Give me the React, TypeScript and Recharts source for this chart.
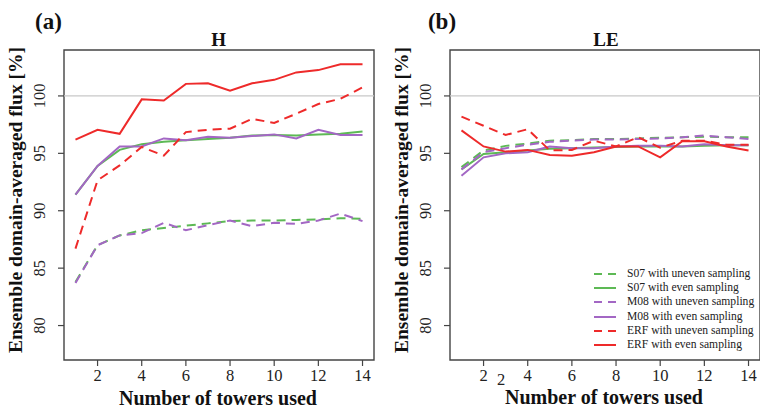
import { LineChart, Line, XAxis, YAxis, ReferenceLine, ReferenceArea } from 'recharts'

// number of towers used
const towers = [1, 2, 3, 4, 5, 6, 7, 8, 9, 10, 11, 12, 13, 14]

// sensible heat (H), ensemble domain-averaged flux [%]
const hS07Uneven = [83.8, 87.0, 87.85, 88.3, 88.5, 88.7, 88.9, 89.1, 89.15, 89.15, 89.2, 89.25, 89.35, 89.3]
const hS07Even = [91.4, 93.9, 95.3, 95.8, 96.0, 96.15, 96.25, 96.35, 96.55, 96.6, 96.55, 96.65, 96.7, 96.9]
const hM08Uneven = [83.7, 87.0, 87.85, 88.05, 88.95, 88.3, 88.75, 89.15, 88.65, 88.95, 88.85, 89.15, 89.75, 89.1]
const hM08Even = [91.4, 93.9, 95.6, 95.6, 96.3, 96.15, 96.45, 96.35, 96.5, 96.65, 96.3, 97.05, 96.6, 96.6]
const hErfUneven = [86.7, 92.65, 93.95, 95.55, 94.8, 96.85, 97.05, 97.15, 98.0, 97.65, 98.45, 99.3, 99.75, 100.75]
const hErfEven = [96.2, 97.05, 96.7, 99.7, 99.6, 101.05, 101.1, 100.45, 101.1, 101.4, 102.05, 102.25, 102.75, 102.75]

// latent heat (LE)
const leS07Uneven = [93.8, 95.25, 95.65, 95.85, 96.1, 96.15, 96.25, 96.25, 96.3, 96.35, 96.4, 96.45, 96.4, 96.4]
const leS07Even = [93.6, 94.95, 95.1, 95.25, 95.4, 95.45, 95.5, 95.55, 95.6, 95.6, 95.6, 95.65, 95.7, 95.7]
const leM08Uneven = [93.6, 95.1, 95.45, 95.75, 96.0, 96.1, 96.2, 96.2, 96.25, 96.3, 96.4, 96.55, 96.4, 96.25]
const leM08Even = [93.05, 94.65, 95.0, 95.1, 95.6, 95.45, 95.45, 95.6, 95.65, 95.65, 95.6, 95.8, 95.7, 95.7]
const leErfUneven = [98.2, 97.4, 96.6, 97.1, 95.25, 95.3, 96.1, 95.6, 96.4, 95.5, 96.1, 96.1, 95.75, 95.75]
const leErfEven = [97.0, 95.6, 95.15, 95.3, 94.85, 94.8, 95.1, 95.6, 95.6, 94.65, 96.05, 96.05, 95.6, 95.25]

const xTicks = [2, 4, 6, 8, 10, 12, 14]
const yTicks = [80, 85, 90, 95, 100]

const GREEN = '#5db955'
const PURPLE = '#a367c4'
const RED = '#ee2a2a'
const FRAME = '#444'
const SERIF = "'Liberation Serif', 'Times New Roman', serif"
const DASH = '9 6'

const series = [
  { key: 's07u', name: 'S07 with uneven sampling', color: GREEN, dashed: true },
  { key: 's07e', name: 'S07 with even sampling', color: GREEN, dashed: false },
  { key: 'm08u', name: 'M08 with uneven sampling', color: PURPLE, dashed: true },
  { key: 'm08e', name: 'M08 with even sampling', color: PURPLE, dashed: false },
  { key: 'erfu', name: 'ERF with uneven sampling', color: RED, dashed: true },
  { key: 'erfe', name: 'ERF with even sampling', color: RED, dashed: false },
]

const buildRows = (cols: number[][]) =>
  towers.map((n, i) => ({
    n,
    s07u: cols[0][i],
    s07e: cols[1][i],
    m08u: cols[2][i],
    m08e: cols[3][i],
    erfu: cols[4][i],
    erfe: cols[5][i],
  }))

const hData = buildRows([hS07Uneven, hS07Even, hM08Uneven, hM08Even, hErfUneven, hErfEven])
const leData = buildRows([leS07Uneven, leS07Even, leM08Uneven, leM08Even, leErfUneven, leErfEven])

const X_DOMAIN: [number, number] = [0.48, 14.52]
const Y_DOMAIN: [number, number] = [77, 104]

function XTick(props: any) {
  const { x, y, payload } = props
  return (
    <text x={x} y={y + 12} textAnchor="middle" fontFamily={SERIF} fontSize={16.5} fill="#222">
      {payload.value}
    </text>
  )
}

function YTick(props: any) {
  const { x, y, payload } = props
  const cx = x - 18
  return (
    <text
      x={cx}
      y={y}
      transform={`rotate(-90, ${cx}, ${y})`}
      textAnchor="middle"
      dominantBaseline="central"
      fontFamily={SERIF}
      fontSize={16.5}
      fill="#222"
    >
      {payload.value}
    </text>
  )
}

function LegendBox() {
  return (
    <div style={{ fontFamily: SERIF, fontSize: 11.6, color: '#222', lineHeight: '14.2px' }}>
      {series.map((s) => (
        <div key={s.key} style={{ display: 'flex', alignItems: 'center', height: 14.2, whiteSpace: 'nowrap' }}>
          <svg width={22} height={6} style={{ marginRight: 11 }}>
            <line
              x1={0}
              y1={3}
              x2={22}
              y2={3}
              stroke={s.color}
              strokeWidth={2}
              strokeDasharray={s.dashed ? '8 6' : undefined}
            />
          </svg>
          <span>{s.name}</span>
        </div>
      ))}
    </div>
  )
}

function Panel({ data }: { data: any[] }) {
  return (
    <LineChart width={380} height={410} data={data} margin={{ top: 50, right: 6, bottom: 20, left: 0 }}>
      <XAxis
        type="number"
        dataKey="n"
        domain={X_DOMAIN}
        ticks={xTicks}
        allowDataOverflow
        height={30}
        axisLine={false}
        tickSize={6}
        tickMargin={3}
        tickLine={{ stroke: FRAME, strokeWidth: 1.2 }}
        tick={<XTick />}
      />
      <YAxis
        type="number"
        domain={Y_DOMAIN}
        ticks={yTicks}
        allowDataOverflow
        width={64}
        axisLine={false}
        tickSize={6}
        tickMargin={0}
        tickLine={{ stroke: FRAME, strokeWidth: 1.2 }}
        tick={<YTick />}
      />
      <ReferenceLine y={100} stroke="#c8c8c8" strokeWidth={1.2} />
      {series.map((s) => (
        <Line
          key={s.key}
          dataKey={s.key}
          name={s.name}
          type="linear"
          stroke={s.color}
          strokeWidth={2}
          strokeDasharray={s.dashed ? DASH : undefined}
          dot={false}
          activeDot={false}
          isAnimationActive={false}
        />
      ))}
      <ReferenceArea
        x1={X_DOMAIN[0]}
        x2={X_DOMAIN[1]}
        y1={Y_DOMAIN[0]}
        y2={Y_DOMAIN[1]}
        fill="none"
        fillOpacity={0}
        stroke={FRAME}
        strokeWidth={1.4}
        ifOverflow="visible"
      />
    </LineChart>
  )
}

export default function App() {
  const bold = { fontFamily: SERIF, fontWeight: 700, fill: '#111' }
  return (
    <div
      style={{
        position: 'fixed',
        left: 0,
        top: 0,
        width: 760,
        height: 410,
        overflow: 'hidden',
        background: '#fff',
      }}
    >
      <div style={{ position: 'absolute', left: 0, top: 0 }}>
        <Panel data={hData} />
      </div>
      <div style={{ position: 'absolute', left: 386, top: 0 }}>
        <Panel data={leData} />
      </div>
      <div style={{ position: 'absolute', left: 594, top: 267 }}>
        <LegendBox />
      </div>
      <svg
        width={760}
        height={410}
        style={{ position: 'absolute', left: 0, top: 0, pointerEvents: 'none' }}
      >
        <text x={48.5} y={29} textAnchor="middle" fontSize={23} {...bold}>(a)</text>
        <text x={442} y={29} textAnchor="middle" fontSize={23} {...bold}>(b)</text>
        <text x={218.7} y={45.7} textAnchor="middle" fontSize={19} {...bold}>H</text>
        <text x={606} y={45.7} textAnchor="middle" fontSize={19} {...bold}>LE</text>
        <text x={218} y={405} textAnchor="middle" fontSize={20} {...bold}>Number of towers used</text>
        <text x={604} y={404} textAnchor="middle" fontSize={20} {...bold}>Number of towers used</text>
        <text
          x={15}
          y={200}
          transform="rotate(-90, 15, 200)"
          textAnchor="middle"
          dominantBaseline="central"
          fontSize={19.5}
          {...bold}
        >
          Ensemble domain-averaged flux [%]
        </text>
        <text
          x={401.7}
          y={200}
          transform="rotate(-90, 401.7, 200)"
          textAnchor="middle"
          dominantBaseline="central"
          fontSize={19.5}
          {...bold}
        >
          Ensemble domain-averaged flux [%]
        </text>
        <text x={501} y={385} textAnchor="middle" fontFamily={SERIF} fontSize={16.5} fill="#222">2</text>
      </svg>
    </div>
  )
}
